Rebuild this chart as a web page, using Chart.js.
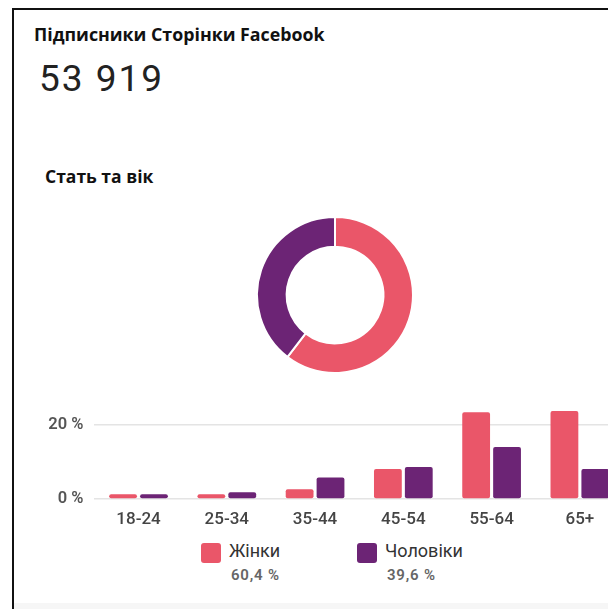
<!DOCTYPE html>
<html lang="uk">
<head>
<meta charset="utf-8">
<title>Підписники Сторінки Facebook</title>
<script src="https://cdn.jsdelivr.net/npm/chart.js@4.4.0/dist/chart.umd.min.js"></script>
<style>
  html, body { margin: 0; padding: 0; background: #fff; }
  body { width: 608px; height: 609px; overflow: hidden; position: relative; }
  .frame {
    position: absolute; left: 12px; top: 8px; width: 700px; height: 700px;
    border-left: 2px solid #111; border-top: 2px solid #111;
  }
  .band { position: absolute; left: 14px; top: 603px; width: 700px; height: 10px; background: #f6f6f6; }
  .txt { position: absolute; white-space: nowrap; line-height: normal; }
  .title { left: 34px; top: 22px; font: 700 17.8px "Open Sans", sans-serif; color: #111; }
  .total { left: 39px; top: 56.7px; font: 400 37px Roboto, sans-serif; color: #222; letter-spacing: 2px; }
  .sub   { left: 45px; top: 164px; font: 700 17.5px "Open Sans", sans-serif; color: #111; }
  .sw { position: absolute; width: 20px; height: 20px; border-radius: 3px; }
  .lg-name { font: 400 18px Roboto, sans-serif; color: #333; }
  .lg-pct  { font: 600 15px Roboto, sans-serif; color: #666; letter-spacing: 0.8px; }
  #pie { position: absolute; left: 250px; top: 210px; }
  #bars { position: absolute; left: 20px; top: 400px; }
</style>
</head>
<body>
<div class="frame"></div>
<div class="band"></div>

<div class="txt title">Підписники Сторінки Facebook</div>
<div class="txt total" id="total"></div>
<div class="txt sub">Стать та вік</div>

<canvas id="pie" width="170" height="170"></canvas>
<canvas id="bars" width="604" height="130"></canvas>

<div id="legend"></div>

<script>
// ---- дані ----
const TOTAL = '53 919';
const GENDERS = ['Жінки', 'Чоловіки'];
const GENDER_SHARE = [60.4, 39.6];
const AGES = ['18-24', '25-34', '35-44', '45-54', '55-64', '65+'];
const WOMEN = [1.3, 1.3, 2.6, 8.1, 23.4, 23.7];
const MEN   = [1.3, 1.8, 5.8, 8.6, 14.0, 8.1];
const Y_TICKS = [0, 20];

// ---- кольори ----
const PINK   = '#EA5669';
const PURPLE = '#6C2475';
const COLORS = [PINK, PURPLE];

const fmtPct = v => v.toFixed(1).replace('.', ',') + ' %';

document.getElementById('total').textContent = TOTAL;

// кільце: жінки / чоловіки
new Chart(document.getElementById('pie'), {
  type: 'doughnut',
  data: {
    labels: GENDERS,
    datasets: [{
      data: GENDER_SHARE,
      backgroundColor: COLORS,
      borderColor: '#fff',
      borderWidth: 2
    }]
  },
  options: {
    responsive: false,
    animation: false,
    cutout: '62%',
    layout: { padding: 6 },
    plugins: { legend: { display: false }, tooltip: { enabled: false } }
  }
});

// стовпці за віком (остання група обрізана правим краєм)
new Chart(document.getElementById('bars'), {
  type: 'bar',
  data: {
    labels: AGES,
    datasets: [
      { label: GENDERS[0], data: WOMEN, backgroundColor: PINK },
      { label: GENDERS[1], data: MEN,   backgroundColor: PURPLE }
    ]
  },
  options: {
    responsive: false,
    animation: false,
    layout: { padding: { top: 6.25, left: 0, right: 0, bottom: 0 } },
    datasets: {
      bar: { categoryPercentage: 0.70, barPercentage: 0.90, borderRadius: 2, borderSkipped: false }
    },
    plugins: { legend: { display: false }, tooltip: { enabled: false } },
    scales: {
      x: {
        grid: { display: false, drawTicks: false },
        border: { display: false },
        ticks: { padding: 11, color: '#444', font: { family: 'Roboto', size: 17, weight: '500' } },
        afterFit: axis => { axis.height = 31; axis.paddingLeft = 0; axis.paddingRight = 0; }
      },
      y: {
        min: 0, max: 25,
        grid: { color: '#e4e4e4', lineWidth: 1.5, drawTicks: false },
        border: { display: false },
        // лише дві позначки: 0 % і 20 %
        afterBuildTicks: axis => { axis.ticks = Y_TICKS.map(v => ({ value: v })); },
        afterFit: axis => { axis.width = 74.4; axis.paddingTop = 0; axis.paddingBottom = 0; },
        ticks: {
          padding: 11, color: '#555',
          font: { family: 'Roboto', size: 16.5, weight: '600' },
          callback: v => v + ' %'
        }
      }
    }
  }
});

// легенда під графіком
const legend = document.getElementById('legend');
const LEG_X = [201, 357];
GENDERS.forEach((g, i) => {
  legend.insertAdjacentHTML('beforeend', `
    <div class="sw" style="left:${LEG_X[i]}px;top:543px;background:${COLORS[i]}"></div>
    <div class="txt lg-name" style="left:${LEG_X[i] + 28}px;top:540px">${g}</div>
    <div class="txt lg-pct" style="left:${LEG_X[i] + 30}px;top:566px">${fmtPct(GENDER_SHARE[i])}</div>`);
});
</script>
</body>
</html>
